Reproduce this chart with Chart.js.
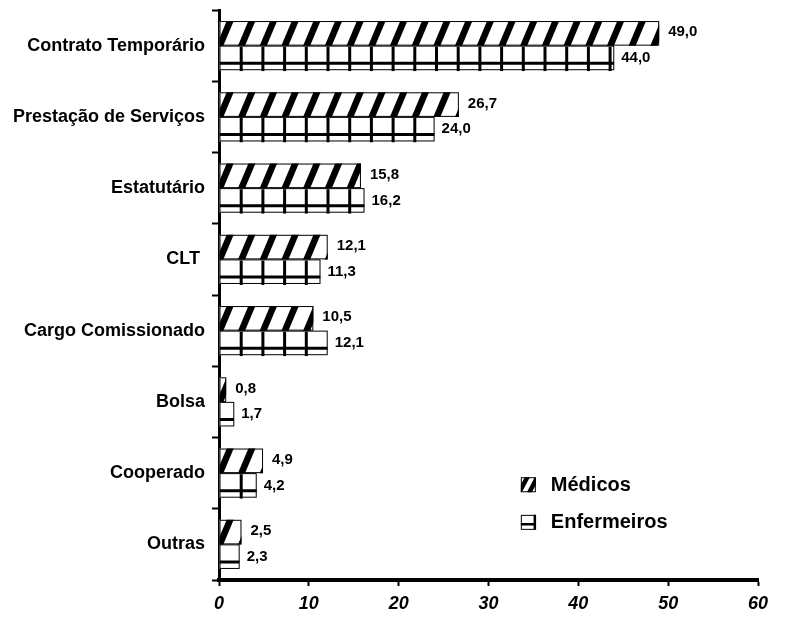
<!DOCTYPE html>
<html>
<head>
<meta charset="utf-8">
<script src="https://cdn.jsdelivr.net/npm/chart.js@4"></script>
<style>
  html, body { margin: 0; padding: 0; background: #fff; }
  #wrap { width: 787px; height: 624px; }
</style>
</head>
<body>
<div id="wrap"><canvas id="chart-0"></canvas></div>
<script>
const categories = ['Contrato Temporário', 'Prestação de Serviços', 'Estatutário', 'CLT ', 'Cargo Comissionado', 'Bolsa', 'Cooperado', 'Outras']
const medicos = [49.0, 26.7, 15.8, 12.1, 10.5, 0.8, 4.9, 2.5]
const enfermeiros = [44.0, 24.0, 16.2, 11.3, 12.1, 1.7, 4.2, 2.3]
const seriesNames = ['Médicos', 'Enfermeiros']

const FONT = '"Liberation Sans", Arial, sans-serif'

function drawStripes(ctx, left, top, right, bottom, anchor) {
  ctx.save()
  ctx.beginPath()
  ctx.rect(left, top, right - left, bottom - top)
  ctx.clip()
  ctx.strokeStyle = '#000'
  ctx.lineWidth = 6.5
  const step = 21.7
  const h = bottom - top
  const lean = h * 0.42
  let start = anchor + Math.floor((left - anchor - lean) / step) * step
  for (let x = start; x < right + step; x += step) {
    ctx.beginPath()
    ctx.moveTo(x, bottom + 2)
    ctx.lineTo(x + lean + 2 * 0.84, top - 2)
    ctx.stroke()
  }
  ctx.restore()
}

function drawGrid(ctx, left, top, right, bottom) {
  ctx.save()
  ctx.beginPath()
  ctx.rect(left, top, right - left, bottom - top + 1)
  ctx.clip()
  ctx.strokeStyle = '#000'
  ctx.lineWidth = 3
  const step = 21.7
  for (let x = left + step; x < right; x += step) {
    ctx.beginPath()
    ctx.moveTo(x, top + 1)
    ctx.lineTo(x, bottom + 1)
    ctx.stroke()
  }
  const hy = top + (bottom - top) * 0.72
  ctx.beginPath()
  ctx.moveTo(left, hy)
  ctx.lineTo(right, hy)
  ctx.stroke()
  ctx.restore()
}

const hatchPlugin = {
  id: 'hatch',
  afterDatasetsDraw(chart) {
    const ctx = chart.ctx
    const anchor = chart.chartArea.left
    chart.data.datasets.forEach((ds, di) => {
      const meta = chart.getDatasetMeta(di)
      meta.data.forEach(bar => {
        const p = bar.getProps(['x', 'y', 'base', 'height'], true)
        const left = Math.min(p.base, p.x)
        const right = Math.max(p.base, p.x)
        const top = p.y - p.height / 2
        const bottom = p.y + p.height / 2
        if (di === 0) drawStripes(ctx, left, top, right, bottom, anchor)
        else drawGrid(ctx, left, top, right, bottom)
        ctx.save()
        ctx.strokeStyle = '#000'
        ctx.lineWidth = 1
        ctx.strokeRect(left + 0.5, top + 0.5, right - left - 1, bottom - top - 1)
        ctx.restore()
      })
    })
  }
}

const labelPlugin = {
  id: 'valueLabels',
  afterDatasetsDraw(chart) {
    const ctx = chart.ctx
    ctx.save()
    ctx.fillStyle = '#000'
    ctx.font = 'bold 15px ' + FONT
    ctx.textAlign = 'left'
    ctx.textBaseline = 'middle'
    chart.data.datasets.forEach((ds, di) => {
      const meta = chart.getDatasetMeta(di)
      meta.data.forEach((bar, i) => {
        const p = bar.getProps(['x', 'y'], true)
        const txt = ds.data[i].toFixed(1).replace('.', ',')
        ctx.fillText(txt, p.x + (di === 0 ? 9 : 7), p.y + (di === 0 ? -1 : 0))
      })
    })
    ctx.restore()
  }
}

const legendPlugin = {
  id: 'innerLegend',
  afterDraw(chart) {
    const ctx = chart.ctx
    const a = chart.chartArea
    const x = a.left + (a.right - a.left) * 0.56
    const rows = [a.top + (a.bottom - a.top) * 0.832, a.top + (a.bottom - a.top) * 0.898]
    rows.forEach((cy, i) => {
      const bx = x, by = cy - 7, s = 15
      ctx.save()
      ctx.fillStyle = '#fff'
      ctx.fillRect(bx, by, s, s)
      if (i === 0) {
        ctx.beginPath()
        ctx.rect(bx, by, s, s)
        ctx.clip()
        ctx.strokeStyle = '#000'
        ctx.lineWidth = 4.5
        ;[-2, 8].forEach(o => {
          ctx.beginPath()
          ctx.moveTo(bx + o, by + s + 1)
          ctx.lineTo(bx + o + 9, by - 1)
          ctx.stroke()
        })
      } else {
        ctx.strokeStyle = '#000'
        ctx.lineWidth = 2.5
        ctx.beginPath()
        ctx.moveTo(bx, by + s * 0.62)
        ctx.lineTo(bx + s, by + s * 0.62)
        ctx.moveTo(bx + s - 1, by)
        ctx.lineTo(bx + s - 1, by + s)
        ctx.stroke()
      }
      ctx.restore()
      ctx.save()
      ctx.strokeStyle = '#000'
      ctx.lineWidth = 1
      ctx.strokeRect(bx + 0.5, by + 0.5, s - 1, s - 1)
      ctx.fillStyle = '#000'
      ctx.font = 'bold 20px ' + FONT
      ctx.textAlign = 'left'
      ctx.textBaseline = 'middle'
      ctx.fillText(seriesNames[i], bx + 30, cy + 1)
      ctx.restore()
    })
  }
}

new Chart(document.getElementById('chart-0'), {
  type: 'bar',
  data: {
    labels: categories,
    datasets: [
      { label: seriesNames[0], data: medicos, backgroundColor: '#fff', borderColor: '#000', borderWidth: 0 },
      { label: seriesNames[1], data: enfermeiros, backgroundColor: '#fff', borderColor: '#000', borderWidth: 0 }
    ]
  },
  options: {
    indexAxis: 'y',
    responsive: true,
    maintainAspectRatio: false,
    animation: false,
    layout: { padding: { top: 10, right: 29, bottom: 0, left: 0 } },
    datasets: {
      bar: { barPercentage: 1, categoryPercentage: 0.69 }
    },
    scales: {
      x: {
        min: 0,
        max: 60,
        afterFit: scale => { scale.height = 44; scale.paddingLeft = 0; scale.paddingRight = 0 },
        ticks: {
          stepSize: 10,
          color: '#000',
          padding: 7,
          font: { family: FONT, size: 18, weight: 'bold', style: 'italic' }
        },
        grid: { drawOnChartArea: false, color: '#000', tickLength: 6, tickWidth: 2 },
        border: { display: true, color: '#000', width: 4 }
      },
      y: {
        afterFit: scale => { scale.width = 219; scale.paddingTop = 0; scale.paddingBottom = 0 },
        ticks: {
          color: '#000',
          padding: 7,
          font: { family: FONT, size: 18, weight: 'bold' }
        },
        grid: { drawOnChartArea: false, offset: true, color: '#000', tickLength: 7, tickWidth: 2 },
        border: { display: true, color: '#000', width: 3 }
      }
    },
    plugins: {
      legend: { display: false },
      tooltip: { enabled: false }
    }
  },
  plugins: [hatchPlugin, labelPlugin, legendPlugin]
})
</script>
</body>
</html>
